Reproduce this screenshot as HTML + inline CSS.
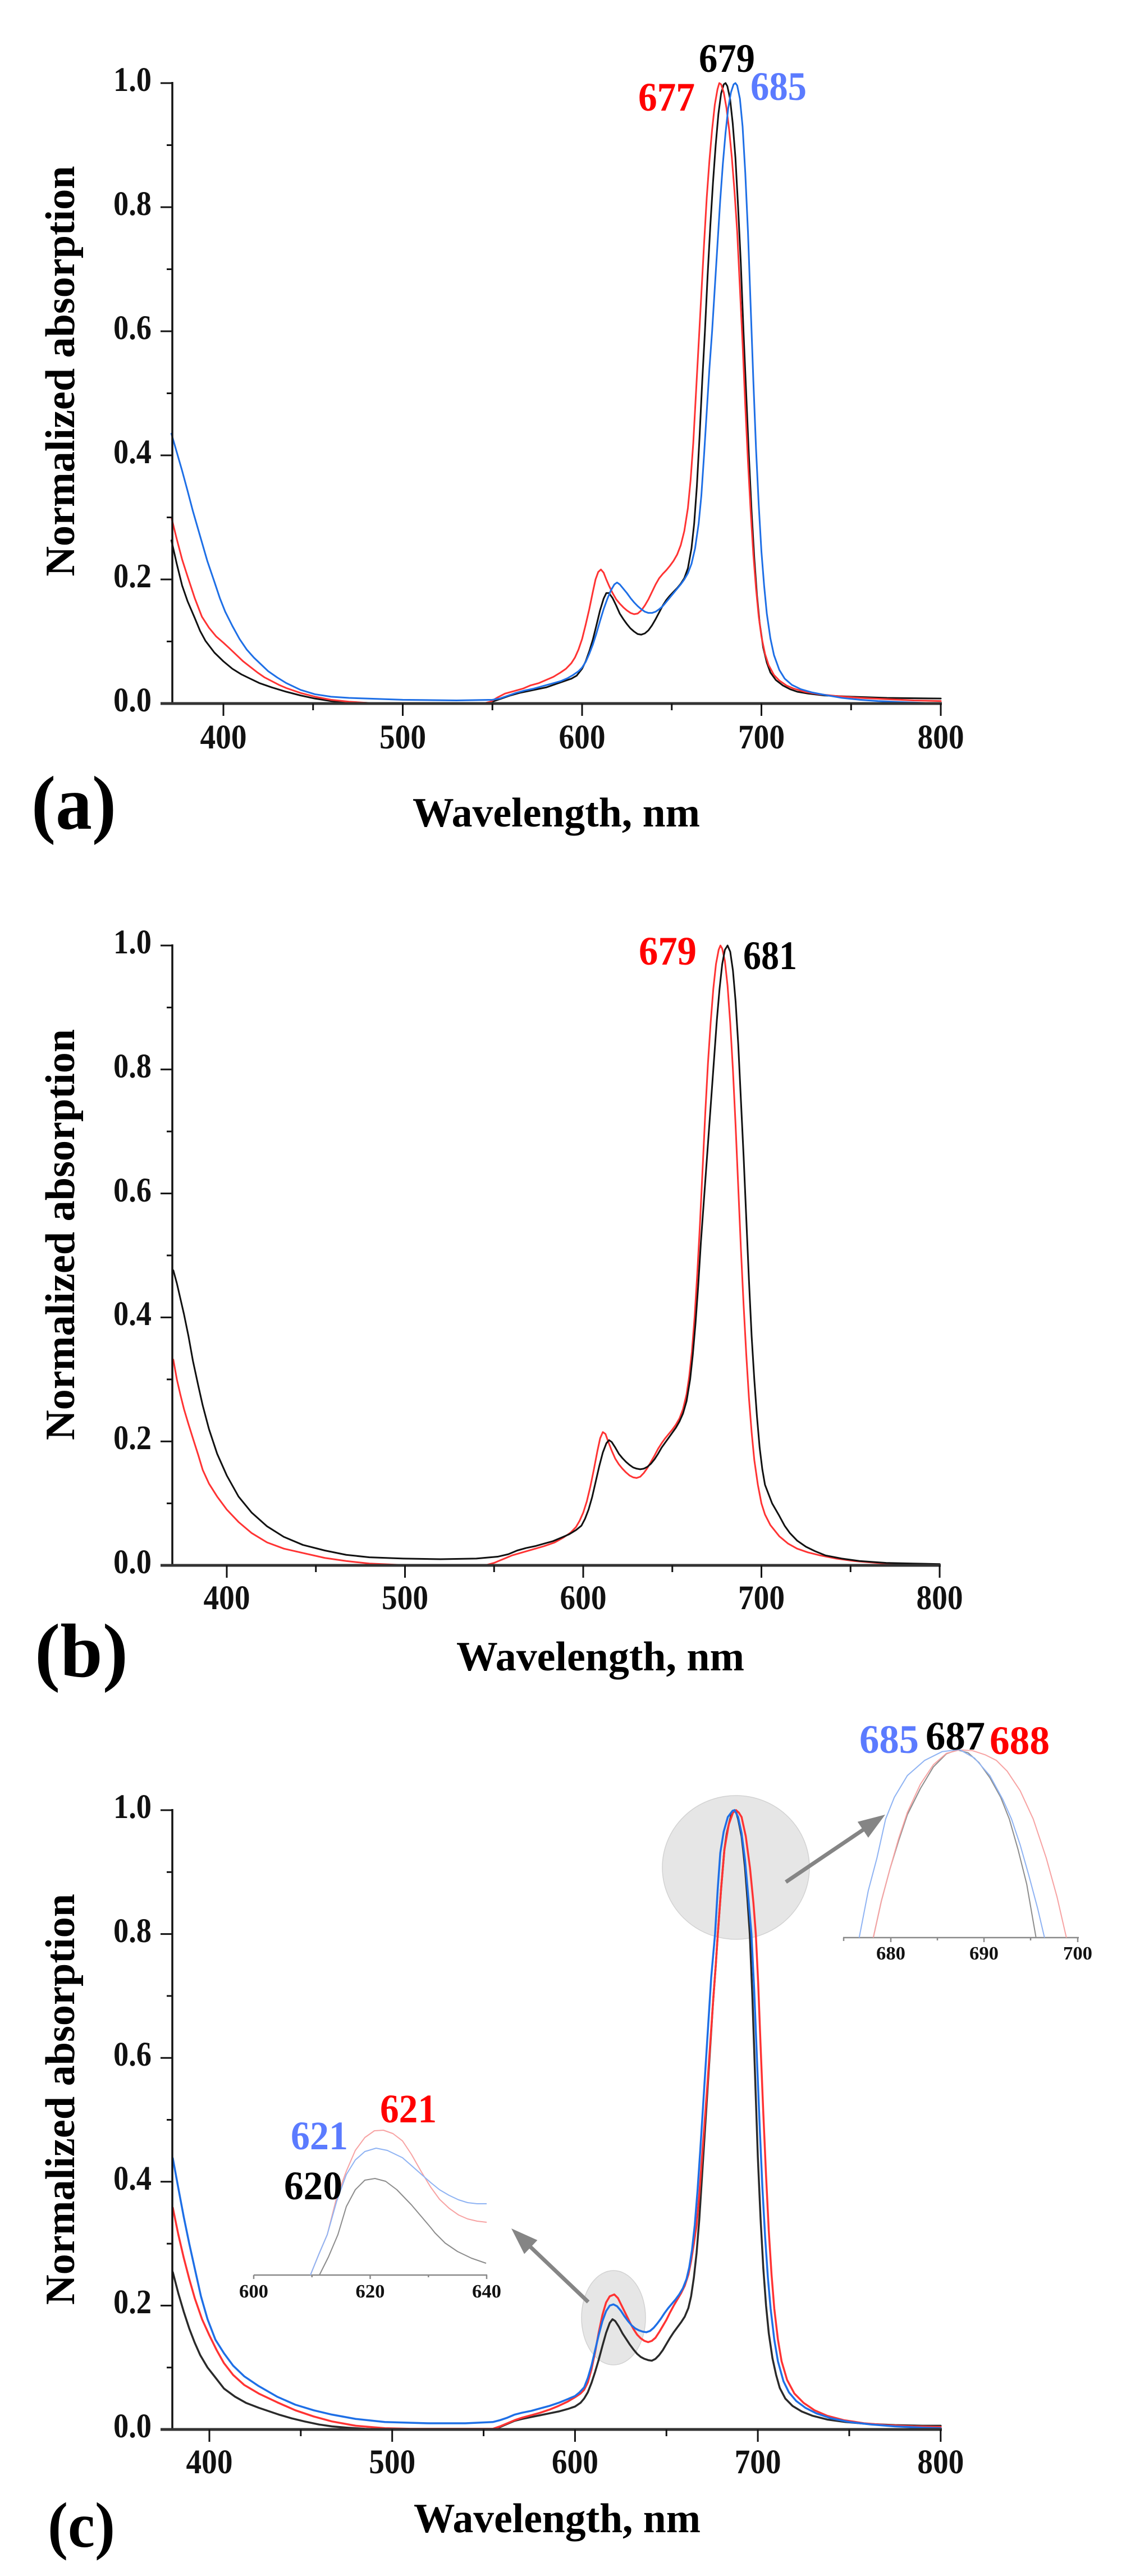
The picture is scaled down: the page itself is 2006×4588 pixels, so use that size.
<!DOCTYPE html>
<html><head><meta charset="utf-8"><style>
html,body{margin:0;padding:0;background:#fff;}
svg{display:block;}
text{font-family:"Liberation Serif","DejaVu Serif",serif;font-weight:bold;}
.t{font-size:61px;fill:#111;}
.ti{font-size:34px;fill:#111;}
.ax{font-size:74px;fill:#000;}
.pk{font-size:72px;}
.pl{fill:#000;}
</style></head><body>
<svg width="2006" height="4588" viewBox="0 0 2006 4588" xmlns="http://www.w3.org/2000/svg" font-family="Liberation Serif, DejaVu Serif, serif">
<rect width="2006" height="4588" fill="#fff"/>

<!-- ================= PANEL (a) ================= -->
<g stroke-linejoin="round" stroke-linecap="round" fill="none">
<polyline transform="matrix(3.195 0 0 -1105 -880 1253)" vector-effect="non-scaling-stroke" stroke="#111" stroke-width="3" points="371,0.263 374,0.225 377,0.19 380,0.165 384,0.138 387,0.117 390,0.101 395,0.082 400,0.068 405,0.056 410,0.047 415,0.04 420,0.033 427,0.026 435,0.019 443,0.013 451,0.008 460,0.004 470,0.002 480,0.001 490,0 545,0 550,0.003 555,0.008 560,0.013 565,0.017 570,0.02 575,0.023 580,0.026 585,0.031 590,0.036 594,0.04 597,0.045 600,0.056 602,0.068 604,0.084 606,0.103 608,0.126 610,0.15 612,0.169 613.5,0.178 615,0.178 617,0.17 619,0.158 621,0.145 623,0.136 625,0.128 627,0.121 629,0.116 631,0.112 633,0.111 635,0.113 637,0.118 639,0.126 641,0.136 643,0.147 645,0.158 647,0.167 649,0.174 651,0.18 653,0.186 655,0.193 657,0.202 659,0.218 661,0.25 662.5,0.29 664,0.35 665.5,0.43 667,0.52 668.5,0.6 670,0.69 671.5,0.77 673,0.84 674.5,0.9 676,0.95 677.5,0.983 679,0.998 680,1 681,0.995 682.5,0.975 684,0.935 685.5,0.88 687,0.8 688.5,0.71 690,0.6 691.5,0.5 693,0.4 694.5,0.31 696,0.235 697.5,0.175 699,0.13 701,0.09 703,0.066 705,0.05 708,0.038 712,0.029 716,0.023 720,0.019 726,0.016 735,0.013 750,0.011 770,0.009 800,0.008"/>
<polyline transform="matrix(3.195 0 0 -1105 -880 1253)" vector-effect="non-scaling-stroke" stroke="#f33" stroke-width="3" points="371,0.3 374,0.265 377,0.232 380,0.205 384,0.17 388,0.14 392,0.122 396,0.108 400,0.098 403,0.09 407,0.079 411,0.068 415,0.059 419,0.05 423,0.042 427,0.036 431,0.03 435,0.025 443,0.017 451,0.011 460,0.006 470,0.003 480,0.001 490,0 545,0 549,0.003 553,0.01 557,0.016 562,0.02 567,0.024 571,0.029 576,0.033 580,0.038 584,0.043 588,0.05 591,0.056 594,0.065 596,0.074 598,0.087 600,0.104 602,0.127 604,0.152 606,0.18 607.5,0.2 609,0.212 610.5,0.216 612,0.211 613.5,0.2 615,0.19 617,0.178 619,0.168 621,0.161 623,0.155 625,0.15 627,0.146 629,0.144 631,0.145 633,0.15 635,0.158 637,0.168 639,0.18 641,0.192 643,0.202 645,0.209 647,0.215 649,0.222 651,0.23 653,0.24 655,0.255 657,0.278 659,0.315 660.5,0.36 662,0.42 663.5,0.5 665,0.58 666.5,0.66 668,0.74 669.5,0.815 671,0.875 672.5,0.925 674,0.965 675.5,0.99 676.5,1 677.5,0.998 679,0.985 680.5,0.96 682,0.925 683.5,0.88 685,0.825 686.5,0.76 688,0.67 689.5,0.58 691,0.48 692.5,0.39 694,0.31 695.5,0.24 697,0.185 698.5,0.14 700,0.108 702,0.08 704,0.062 707,0.046 710,0.037 714,0.029 718,0.024 724,0.019 732,0.015 742,0.012 755,0.009 770,0.007 785,0.005 800,0.004"/>
<polyline transform="matrix(3.195 0 0 -1105 -880 1253)" vector-effect="non-scaling-stroke" stroke="#1e6fe6" stroke-width="3" points="371,0.435 374,0.405 377,0.375 380,0.343 383,0.31 387,0.27 391,0.23 395,0.196 398,0.17 401,0.148 405,0.125 409,0.104 413,0.087 417,0.074 421,0.063 425,0.052 430,0.042 435,0.033 443,0.022 451,0.015 460,0.011 470,0.009 480,0.008 500,0.006 530,0.005 550,0.006 554,0.008 558,0.012 563,0.017 568,0.021 573,0.024 578,0.028 583,0.032 588,0.036 592,0.041 595,0.046 598,0.052 600,0.058 602,0.067 604,0.08 606,0.095 608,0.113 610,0.133 612,0.152 614,0.168 616,0.182 618,0.192 619.5,0.195 621,0.192 623,0.185 625,0.178 627,0.17 629,0.163 631,0.157 633,0.152 635,0.148 637,0.146 639,0.146 641,0.148 643,0.152 645,0.157 647,0.164 649,0.171 651,0.178 653,0.185 655,0.192 657,0.2 659,0.21 661,0.225 663,0.25 665,0.29 666.5,0.335 668,0.4 669.5,0.47 671,0.54 672.5,0.6 674,0.67 675.5,0.74 677,0.81 678.5,0.87 680,0.92 681.5,0.96 683,0.985 684.5,0.998 685.5,1 686.5,0.996 688,0.975 689.5,0.93 691,0.855 692.5,0.76 694,0.64 695.5,0.52 697,0.41 698.5,0.32 700,0.245 701.5,0.19 703,0.145 705,0.105 707,0.078 710,0.054 713,0.04 717,0.03 722,0.023 728,0.018 735,0.014 745,0.009 755,0.006 765,0.004 780,0.002 800,0"/>
</g>
<!-- axes (a) -->
<g stroke="#111" stroke-width="3">
<line x1="307" y1="146" x2="307" y2="1253" stroke-width="3.5"/>
<line x1="286" y1="1253" x2="1678" y2="1253" stroke="#333" stroke-width="5"/>
<line x1="286" y1="148" x2="307" y2="148"/><line x1="297" y1="258.5" x2="307" y2="258.5"/>
<line x1="286" y1="369" x2="307" y2="369"/><line x1="297" y1="479.5" x2="307" y2="479.5"/>
<line x1="286" y1="590" x2="307" y2="590"/><line x1="297" y1="700.5" x2="307" y2="700.5"/>
<line x1="286" y1="811" x2="307" y2="811"/><line x1="297" y1="921.5" x2="307" y2="921.5"/>
<line x1="286" y1="1032" x2="307" y2="1032"/><line x1="297" y1="1142.5" x2="307" y2="1142.5"/>
<line x1="398" y1="1253" x2="398" y2="1275"/><line x1="557.75" y1="1253" x2="557.75" y2="1265"/>
<line x1="717.5" y1="1253" x2="717.5" y2="1275"/><line x1="877.25" y1="1253" x2="877.25" y2="1265"/>
<line x1="1037" y1="1253" x2="1037" y2="1275"/><line x1="1196.75" y1="1253" x2="1196.75" y2="1265"/>
<line x1="1356.5" y1="1253" x2="1356.5" y2="1275"/><line x1="1516.25" y1="1253" x2="1516.25" y2="1265"/>
<line x1="1676" y1="1253" x2="1676" y2="1275"/>
</g>
<g class="t" text-anchor="end">
<text x="270" y="162" textLength="68" lengthAdjust="spacingAndGlyphs">1.0</text>
<text x="270" y="383" textLength="68" lengthAdjust="spacingAndGlyphs">0.8</text>
<text x="270" y="604" textLength="68" lengthAdjust="spacingAndGlyphs">0.6</text>
<text x="270" y="825" textLength="68" lengthAdjust="spacingAndGlyphs">0.4</text>
<text x="270" y="1046" textLength="68" lengthAdjust="spacingAndGlyphs">0.2</text>
<text x="270" y="1267" textLength="68" lengthAdjust="spacingAndGlyphs">0.0</text>
</g>
<g class="t">
<text x="356.5" y="1333" textLength="83" lengthAdjust="spacingAndGlyphs">400</text>
<text x="676" y="1333" textLength="83" lengthAdjust="spacingAndGlyphs">500</text>
<text x="995.5" y="1333" textLength="83" lengthAdjust="spacingAndGlyphs">600</text>
<text x="1315" y="1333" textLength="83" lengthAdjust="spacingAndGlyphs">700</text>
<text x="1634.5" y="1333" textLength="83" lengthAdjust="spacingAndGlyphs">800</text>
</g>
<text class="ax" transform="translate(132,661) rotate(-90)" text-anchor="middle" textLength="731" lengthAdjust="spacingAndGlyphs">Normalized absorption</text>
<text class="ax" x="735" y="1472" textLength="512" lengthAdjust="spacingAndGlyphs">Wavelength, nm</text>
<text class="pl" x="56" y="1476" font-size="136" textLength="151" lengthAdjust="spacingAndGlyphs">(a)</text>
<text class="pk" x="1245" y="128" fill="#000" textLength="100" lengthAdjust="spacingAndGlyphs">679</text>
<text class="pk" x="1137" y="197" fill="#f00" textLength="101" lengthAdjust="spacingAndGlyphs">677</text>
<text class="pk" x="1337" y="178" fill="#5b7bff" textLength="100" lengthAdjust="spacingAndGlyphs">685</text>

<!-- ================= PANEL (b) ================= -->
<g stroke-linejoin="round" stroke-linecap="round" fill="none">
<polyline transform="matrix(3.175 0 0 -1104 -866 2788)" vector-effect="non-scaling-stroke" stroke="#f33" stroke-width="3" points="370,0.332 372,0.3 374,0.275 376,0.252 378.5,0.228 381,0.205 384,0.178 386.5,0.154 390,0.132 394.6,0.111 400,0.09 406.6,0.07 414,0.052 422.6,0.037 432,0.027 442.7,0.02 455,0.012 467,0.007 480,0.003 495,0.001 505,0 545,0 550,0.004 555,0.01 560,0.016 566,0.021 572,0.026 578,0.031 584,0.037 589,0.045 593,0.053 596,0.062 598,0.072 600,0.085 602,0.103 604,0.127 606,0.155 608,0.185 609.5,0.205 611,0.215 612.5,0.212 614,0.2 616,0.185 618,0.172 620,0.163 622,0.156 624,0.15 626,0.145 628,0.142 630,0.141 632,0.143 634,0.149 636,0.157 638,0.167 640,0.177 642,0.188 644,0.197 646,0.205 648,0.212 650,0.219 652,0.227 654,0.237 656,0.252 658,0.276 659.5,0.305 661,0.345 662.5,0.4 664,0.47 665.5,0.55 667,0.64 668.5,0.73 670,0.81 671.5,0.875 673,0.93 674.5,0.97 676,0.993 677,1 678,0.995 679.5,0.975 681,0.935 682.5,0.875 684,0.8 685.5,0.71 687,0.61 688.5,0.51 690,0.42 691.5,0.34 693,0.27 694.5,0.215 696,0.17 698,0.13 700,0.1 702,0.082 705,0.065 710,0.047 715,0.035 720,0.027 726,0.021 733,0.016 742,0.011 752,0.007 765,0.004 780,0.002 800,0.001"/>
<polyline transform="matrix(3.175 0 0 -1104 -866 2788)" vector-effect="non-scaling-stroke" stroke="#111" stroke-width="3" points="370,0.476 372,0.455 374,0.43 376,0.405 378.5,0.37 381,0.33 384,0.29 386.5,0.258 390,0.22 394.6,0.18 400,0.145 406.6,0.111 414,0.085 422.6,0.063 432,0.046 442.7,0.033 455,0.024 467,0.017 480,0.013 499,0.011 520,0.01 540,0.011 552,0.014 558,0.018 563,0.024 568,0.028 573,0.031 578,0.035 583,0.039 588,0.045 592,0.05 596,0.057 599,0.064 601,0.075 603,0.09 605,0.11 607,0.135 609,0.16 611,0.182 613,0.197 614.5,0.202 616,0.199 618,0.19 620,0.18 622,0.173 624,0.167 626,0.162 628,0.158 630,0.156 632,0.155 634,0.156 636,0.159 638,0.164 640,0.171 642,0.18 644,0.19 646,0.198 648,0.206 650,0.214 652,0.222 654,0.232 656,0.245 658,0.265 660,0.3 661.5,0.34 663,0.39 664.5,0.45 666,0.52 667.5,0.58 669,0.64 670.5,0.7 672,0.76 673.5,0.82 675,0.88 676.5,0.93 678,0.97 679.5,0.993 681,1 682.5,0.99 684,0.96 685.5,0.91 687,0.84 688.5,0.75 690,0.66 691.5,0.56 693,0.46 694.5,0.37 696,0.3 697.5,0.24 699,0.19 700.5,0.155 702,0.13 704,0.115 706,0.1 708,0.09 710,0.08 713,0.064 716,0.052 720,0.04 725,0.03 730,0.023 736,0.016 745,0.011 755,0.007 770,0.004 785,0.003 800,0.002"/>
</g>
<g stroke="#111" stroke-width="3">
<line x1="307" y1="1682" x2="307" y2="2788" stroke-width="3.5"/>
<line x1="286" y1="2788" x2="1676" y2="2788" stroke="#333" stroke-width="5"/>
<line x1="286" y1="1684" x2="307" y2="1684"/><line x1="297" y1="1794.4" x2="307" y2="1794.4"/>
<line x1="286" y1="1904.8" x2="307" y2="1904.8"/><line x1="297" y1="2015.2" x2="307" y2="2015.2"/>
<line x1="286" y1="2125.6" x2="307" y2="2125.6"/><line x1="297" y1="2236" x2="307" y2="2236"/>
<line x1="286" y1="2346.4" x2="307" y2="2346.4"/><line x1="297" y1="2456.8" x2="307" y2="2456.8"/>
<line x1="286" y1="2567.2" x2="307" y2="2567.2"/><line x1="297" y1="2677.6" x2="307" y2="2677.6"/>
<line x1="404" y1="2788" x2="404" y2="2810"/><line x1="562.75" y1="2788" x2="562.75" y2="2800"/>
<line x1="721.5" y1="2788" x2="721.5" y2="2810"/><line x1="880.25" y1="2788" x2="880.25" y2="2800"/>
<line x1="1039" y1="2788" x2="1039" y2="2810"/><line x1="1197.75" y1="2788" x2="1197.75" y2="2800"/>
<line x1="1356.5" y1="2788" x2="1356.5" y2="2810"/><line x1="1515.25" y1="2788" x2="1515.25" y2="2800"/>
<line x1="1674" y1="2788" x2="1674" y2="2810"/>
</g>
<g class="t" text-anchor="end">
<text x="270" y="1698" textLength="68" lengthAdjust="spacingAndGlyphs">1.0</text>
<text x="270" y="1919" textLength="68" lengthAdjust="spacingAndGlyphs">0.8</text>
<text x="270" y="2140" textLength="68" lengthAdjust="spacingAndGlyphs">0.6</text>
<text x="270" y="2360" textLength="68" lengthAdjust="spacingAndGlyphs">0.4</text>
<text x="270" y="2581" textLength="68" lengthAdjust="spacingAndGlyphs">0.2</text>
<text x="270" y="2802" textLength="68" lengthAdjust="spacingAndGlyphs">0.0</text>
</g>
<g class="t">
<text x="362.5" y="2866" textLength="83" lengthAdjust="spacingAndGlyphs">400</text>
<text x="680" y="2866" textLength="83" lengthAdjust="spacingAndGlyphs">500</text>
<text x="997.5" y="2866" textLength="83" lengthAdjust="spacingAndGlyphs">600</text>
<text x="1315" y="2866" textLength="83" lengthAdjust="spacingAndGlyphs">700</text>
<text x="1632.5" y="2866" textLength="83" lengthAdjust="spacingAndGlyphs">800</text>
</g>
<text class="ax" transform="translate(132,2199) rotate(-90)" text-anchor="middle" textLength="732" lengthAdjust="spacingAndGlyphs">Normalized absorption</text>
<text class="ax" x="813" y="2975" textLength="513" lengthAdjust="spacingAndGlyphs">Wavelength, nm</text>
<text class="pl" x="62" y="2986" font-size="136" textLength="166" lengthAdjust="spacingAndGlyphs">(b)</text>
<text class="pk" x="1138" y="1718" fill="#f00" textLength="103" lengthAdjust="spacingAndGlyphs">679</text>
<text class="pk" x="1324" y="1726" fill="#000" textLength="96" lengthAdjust="spacingAndGlyphs">681</text>

<!-- ================= PANEL (c) ================= -->
<ellipse cx="1311" cy="3326" rx="131" ry="128" fill="#e6e6e6" stroke="#d2d2d2" stroke-width="1.5"/>
<ellipse cx="1093" cy="4128" rx="57" ry="84" fill="#e6e6e6" stroke="#d2d2d2" stroke-width="1.5"/>
<g stroke-linejoin="round" stroke-linecap="round" fill="none">
<polyline transform="matrix(3.257 0 0 -1103 -929.8 4327)" vector-effect="non-scaling-stroke" stroke="#2a2a2a" stroke-width="3.5" points="380,0.254 383,0.22 386,0.19 389,0.163 392,0.14 395,0.12 399,0.1 403,0.085 408,0.066 414,0.053 420,0.043 427,0.035 433,0.029 438,0.024 445,0.018 452,0.013 460,0.008 467,0.005 475,0.003 485,0.001 495,0 555,0 559,0.004 563,0.009 567,0.014 571,0.017 576,0.02 581,0.023 586,0.026 591,0.029 596,0.033 600,0.037 603,0.043 605,0.05 607,0.06 609,0.075 611,0.093 613,0.113 615,0.135 617,0.156 619,0.172 620.5,0.178 622,0.175 624,0.166 626,0.155 628,0.146 630,0.137 632,0.129 634,0.122 636,0.117 638,0.114 640,0.112 642,0.111 644,0.114 646,0.12 648,0.128 650,0.138 652,0.148 654,0.157 656,0.165 658,0.173 660,0.182 662,0.196 663.5,0.215 665,0.245 666.5,0.285 668,0.34 669.5,0.41 671,0.48 672.5,0.55 674,0.62 675.5,0.69 677,0.75 678.1,0.8 679.9,0.873 681.7,0.936 683,0.962 684.1,0.977 685.3,0.99 686.4,0.998 687.3,1 688.3,0.995 689.2,0.986 690.1,0.973 691.1,0.958 692,0.935 693,0.907 694.3,0.857 695.6,0.8 697,0.7 698.5,0.57 700,0.44 701.5,0.34 703,0.26 704.5,0.2 706,0.155 708,0.115 710,0.088 712,0.067 715,0.05 719,0.038 724,0.029 730,0.022 738,0.016 748,0.012 760,0.009 775,0.007 790,0.006 800,0.006"/>
<polyline transform="matrix(3.257 0 0 -1103 -929.8 4327)" vector-effect="non-scaling-stroke" stroke="#f33" stroke-width="3.5" points="380,0.358 383,0.315 386,0.277 389,0.243 392,0.212 396,0.178 400,0.152 404,0.128 408,0.107 413,0.088 419,0.072 427,0.058 437,0.044 447,0.031 457,0.021 467,0.013 480,0.006 496,0.002 510,0.001 555,0.001 559,0.005 563,0.01 567,0.015 571,0.019 576,0.023 581,0.027 586,0.032 591,0.038 596,0.045 600,0.052 603,0.058 605,0.064 607,0.076 609,0.097 611,0.125 613,0.157 615,0.185 617,0.205 619,0.215 621.5,0.218 623.5,0.212 625.5,0.2 628,0.185 630,0.173 632,0.162 634,0.153 636,0.147 638,0.143 640,0.141 642,0.143 644,0.148 646,0.157 648,0.167 650,0.177 652,0.189 654,0.2 656,0.21 658,0.22 660,0.232 662,0.25 663.5,0.272 665,0.3 666.5,0.33 668,0.38 669.5,0.44 671,0.5 672.5,0.56 674,0.625 675.5,0.69 677,0.75 678.1,0.8 679.9,0.873 681.7,0.936 684.1,0.977 686.4,0.996 688.1,1 689.6,0.996 691.1,0.989 693.4,0.958 695.7,0.907 697.6,0.85 698.9,0.8 700.2,0.72 701.5,0.62 703,0.51 704.5,0.41 706,0.32 707.5,0.25 709,0.195 711,0.145 713,0.11 716,0.08 720,0.058 725,0.043 731,0.031 738,0.022 747,0.015 758,0.01 770,0.007 785,0.005 800,0.004"/>
<polyline transform="matrix(3.257 0 0 -1103 -929.8 4327)" vector-effect="non-scaling-stroke" stroke="#1e6fe6" stroke-width="3.5" points="380,0.438 383,0.39 386,0.343 389,0.3 392,0.26 395.4,0.215 399,0.178 403.3,0.145 408,0.123 413,0.103 419,0.086 427,0.07 437,0.053 447,0.04 457,0.031 467,0.024 480,0.017 496,0.012 520,0.01 540,0.01 555,0.012 559,0.015 563,0.019 567,0.024 571,0.027 576,0.03 581,0.034 586,0.038 591,0.043 596,0.049 600,0.054 602.5,0.06 605,0.068 607,0.083 609,0.103 611,0.128 613,0.153 615,0.175 617,0.191 619,0.2 621,0.202 623,0.199 625,0.192 627,0.183 629,0.175 631,0.168 633,0.163 635,0.16 637,0.158 639,0.157 641,0.159 643,0.164 645,0.171 647,0.179 649,0.188 651,0.196 653,0.203 655,0.21 657,0.218 659,0.228 661,0.243 662.5,0.262 664,0.29 665.5,0.33 667,0.385 668.5,0.45 670,0.52 671.5,0.59 673,0.66 674.5,0.73 676.6,0.8 678.07,0.873 679.46,0.931 681.3,0.965 683.6,0.989 686.2,0.999 687.3,1 689.2,0.989 691.1,0.963 693,0.919 694.6,0.866 696.5,0.8 698,0.71 699.5,0.6 701,0.49 702.5,0.39 704,0.31 705.5,0.245 707,0.195 709,0.145 711,0.11 714,0.078 717,0.06 721,0.046 726,0.035 732,0.026 740,0.018 750,0.012 762,0.008 775,0.005 790,0.003 800,0.002"/>
</g>
<g stroke="#111" stroke-width="3">
<line x1="307" y1="3222" x2="307" y2="4327" stroke-width="3.5"/>
<line x1="286" y1="4327" x2="1678" y2="4327" stroke="#333" stroke-width="5"/>
<line x1="286" y1="3224" x2="307" y2="3224"/><line x1="297" y1="3334.3" x2="307" y2="3334.3"/>
<line x1="286" y1="3444.6" x2="307" y2="3444.6"/><line x1="297" y1="3554.9" x2="307" y2="3554.9"/>
<line x1="286" y1="3665.2" x2="307" y2="3665.2"/><line x1="297" y1="3775.5" x2="307" y2="3775.5"/>
<line x1="286" y1="3885.8" x2="307" y2="3885.8"/><line x1="297" y1="3996.1" x2="307" y2="3996.1"/>
<line x1="286" y1="4106.4" x2="307" y2="4106.4"/><line x1="297" y1="4216.7" x2="307" y2="4216.7"/>
<line x1="373" y1="4327" x2="373" y2="4349"/><line x1="535.85" y1="4327" x2="535.85" y2="4339"/>
<line x1="698.7" y1="4327" x2="698.7" y2="4349"/><line x1="861.55" y1="4327" x2="861.55" y2="4339"/>
<line x1="1024.4" y1="4327" x2="1024.4" y2="4349"/><line x1="1187.25" y1="4327" x2="1187.25" y2="4339"/>
<line x1="1350.1" y1="4327" x2="1350.1" y2="4349"/><line x1="1512.95" y1="4327" x2="1512.95" y2="4339"/>
<line x1="1675.8" y1="4327" x2="1675.8" y2="4349"/>
</g>
<g class="t" text-anchor="end">
<text x="270" y="3238" textLength="68" lengthAdjust="spacingAndGlyphs">1.0</text>
<text x="270" y="3459" textLength="68" lengthAdjust="spacingAndGlyphs">0.8</text>
<text x="270" y="3679" textLength="68" lengthAdjust="spacingAndGlyphs">0.6</text>
<text x="270" y="3900" textLength="68" lengthAdjust="spacingAndGlyphs">0.4</text>
<text x="270" y="4120" textLength="68" lengthAdjust="spacingAndGlyphs">0.2</text>
<text x="270" y="4341" textLength="68" lengthAdjust="spacingAndGlyphs">0.0</text>
</g>
<g class="t">
<text x="331.5" y="4405" textLength="83" lengthAdjust="spacingAndGlyphs">400</text>
<text x="657.2" y="4405" textLength="83" lengthAdjust="spacingAndGlyphs">500</text>
<text x="982.9" y="4405" textLength="83" lengthAdjust="spacingAndGlyphs">600</text>
<text x="1308.6" y="4405" textLength="83" lengthAdjust="spacingAndGlyphs">700</text>
<text x="1634.3" y="4405" textLength="83" lengthAdjust="spacingAndGlyphs">800</text>
</g>
<text class="ax" transform="translate(132,3739) rotate(-90)" text-anchor="middle" textLength="732" lengthAdjust="spacingAndGlyphs">Normalized absorption</text>
<text class="ax" x="737" y="4510" textLength="511" lengthAdjust="spacingAndGlyphs">Wavelength, nm</text>
<text class="pl" x="85" y="4536" font-size="114" textLength="120" lengthAdjust="spacingAndGlyphs">(c)</text>

<!-- arrows -->
<g fill="#858585" stroke="none">
<line x1="1400" y1="3352" x2="1542" y2="3256" stroke="#858585" stroke-width="7"/>
<polygon points="1577,3232 1546.8,3273 1527.8,3244.8"/>
<line x1="1048" y1="4100" x2="942" y2="3999" stroke="#858585" stroke-width="7"/>
<polygon points="911,3969 957.4,3989.9 934,4014.5"/>
</g>

<!-- upper inset -->
<g stroke="#8a8a8a" stroke-width="2.5">
<line x1="1502" y1="3451" x2="1922" y2="3451"/>
<line x1="1503" y1="3451" x2="1503" y2="3457"/>
<line x1="1587" y1="3451" x2="1587" y2="3459"/>
<line x1="1670" y1="3451" x2="1670" y2="3456"/>
<line x1="1753" y1="3451" x2="1753" y2="3459"/>
<line x1="1836" y1="3451" x2="1836" y2="3456"/>
<line x1="1920" y1="3451" x2="1920" y2="3459"/>
</g>
<g fill="none" stroke-width="2" stroke-linejoin="round">
<polyline stroke="#8c8c8c" points="1555.8,3451 1570,3386.5 1585.5,3328.6 1601,3278.3 1616.5,3232 1639.7,3185.5 1662.9,3146.9 1686,3123.7 1705.4,3116.7 1724.7,3121.8 1744,3139.2 1763.4,3166.2 1782.7,3201 1798.1,3239.7 1813.6,3293.8 1829.1,3355.6 1845.7,3451"/>
<polyline stroke="#f7a3a3" points="1555.8,3451 1570,3386.5 1585.5,3328.6 1601,3274.4 1616.5,3228 1639.7,3177.8 1662.9,3143 1686,3122.9 1709.2,3116.7 1732.4,3117.9 1755.6,3125.6 1775,3135.3 1794.3,3154.6 1817.5,3189.4 1840.7,3239.7 1863.9,3309.2 1883.2,3378.8 1899.8,3451"/>
<polyline stroke="#8fb3f3" points="1530.7,3451 1546.9,3367.2 1562.3,3309.2 1577.8,3239.7 1593.3,3201 1616.5,3162.4 1647.4,3135.3 1678.3,3119.8 1709.2,3116 1736.3,3131.4 1763.4,3162.4 1786.5,3204.9 1802,3239.7 1817.5,3286 1832.9,3340.2 1848.4,3398.2 1860.8,3451"/>
</g>
<g class="ti" text-anchor="middle">
<text x="1587" y="3490" textLength="52" lengthAdjust="spacingAndGlyphs">680</text>
<text x="1753" y="3490" textLength="52" lengthAdjust="spacingAndGlyphs">690</text>
<text x="1920" y="3490" textLength="52" lengthAdjust="spacingAndGlyphs">700</text>
</g>
<text class="pk" x="1531" y="3122" fill="#5b7bff" textLength="106" lengthAdjust="spacingAndGlyphs">685</text>
<text class="pk" x="1649" y="3116" fill="#000" textLength="106" lengthAdjust="spacingAndGlyphs">687</text>
<text class="pk" x="1763" y="3124" fill="#f00" textLength="107" lengthAdjust="spacingAndGlyphs">688</text>

<!-- lower inset -->
<g stroke="#8a8a8a" stroke-width="2.5">
<line x1="452" y1="4052" x2="868" y2="4052"/>
<line x1="452" y1="4052" x2="452" y2="4059"/>
<line x1="555.75" y1="4052" x2="555.75" y2="4056"/>
<line x1="659.5" y1="4052" x2="659.5" y2="4059"/>
<line x1="763.25" y1="4052" x2="763.25" y2="4056"/>
<line x1="867" y1="4052" x2="867" y2="4059"/>
</g>
<g fill="none" stroke-width="2" stroke-linejoin="round">
<polyline stroke="#8c8c8c" points="569,4052 585,4020 602,3980 617,3930 633,3900 650,3883 668,3880 687,3885 707,3900 733,3927 750,3947 767,3967 775,3977 793,3995 815,4010 840,4022 866,4031"/>
<polyline stroke="#f7a3a3" points="553,4052 568,4015 583,3980 600,3913 617,3867 633,3830 650,3807 667,3795 683,3794 700,3800 717,3813 733,3837 750,3867 767,3895 783,3917 800,3933 817,3945 833,3952 850,3956 867,3958"/>
<polyline stroke="#8fb3f3" points="553,4052 568,4015 583,3980 600,3920 617,3873 633,3847 650,3832 670,3826 690,3830 717,3843 733,3857 750,3872 767,3887 783,3900 800,3910 817,3918 833,3923 850,3925 867,3925"/>
</g>
<g class="ti" text-anchor="middle">
<text x="452" y="4092" textLength="52" lengthAdjust="spacingAndGlyphs">600</text>
<text x="659.5" y="4092" textLength="52" lengthAdjust="spacingAndGlyphs">620</text>
<text x="867" y="4092" textLength="52" lengthAdjust="spacingAndGlyphs">640</text>
</g>
<text class="pk" x="677" y="3780" fill="#f00" textLength="101" lengthAdjust="spacingAndGlyphs">621</text>
<text class="pk" x="518" y="3828" fill="#5b7bff" textLength="102" lengthAdjust="spacingAndGlyphs">621</text>
<text class="pk" x="506" y="3917" fill="#000" textLength="104" lengthAdjust="spacingAndGlyphs">620</text>
</svg>
</body></html>
